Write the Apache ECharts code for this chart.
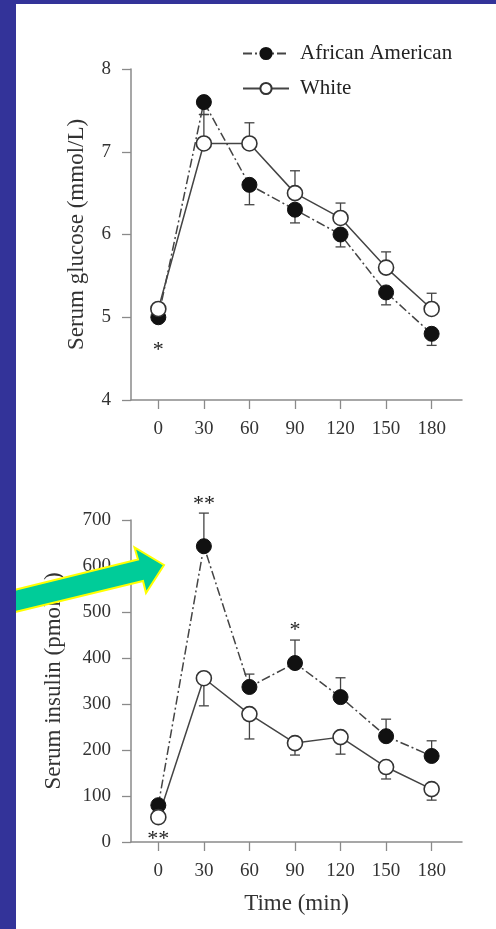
<!DOCTYPE html>
<html>
<head>
<meta charset="utf-8">
<script src="https://cdn.jsdelivr.net/npm/echarts@6/dist/echarts.min.js"></script>
<style>
  html, body { margin: 0; padding: 0; background: #ffffff; }
  #chart { width: 496px; height: 929px; }
</style>
</head>
<body>
<div id="chart"></div>
<script>
// ---- data ----
const times = [0, 30, 60, 90, 120, 150, 180];
const glucoseTicks = [4, 5, 6, 7, 8];
const insulinTicks = [0, 100, 200, 300, 400, 500, 600, 700];

const glucoseAA = [5.0, 7.6, 6.6, 6.3, 6.0, 5.3, 4.8];
const glucoseWhite = [5.1, 7.1, 7.1, 6.5, 6.2, 5.6, 5.1];
const glucoseAAErrEnd = [null, 7.45, 6.36, 6.14, 5.85, 5.15, 4.66];
const glucoseWhiteErrEnd = [null, 7.45, 7.35, 6.77, 6.38, 5.79, 5.29];

const insulinAA = [80, 643, 337, 389, 315, 230, 187];
const insulinWhite = [54, 356, 278, 215, 228, 163, 115];
const insulinAAErrEnd = [null, 715, 365, 439, 357, 267, 220];
const insulinWhiteErrEnd = [null, 296, 224, 189, 191, 137, 91];

const glucoseMarks = [[0, 4.6, '*']];
const insulinMarks = [[30, 735, '**'], [90, 460, '*'], [0, 6, '**']];

const seriesNames = ['African American', 'White'];
// ---------------

const serif = 'Liberation Serif, Times New Roman, serif';
const axisGray = '#8a8a8a';
const ink = '#333';

function pairs(vals) { return times.map((t, i) => [t, vals[i]]); }
function errData(vals, ends) {
  const out = [];
  times.forEach((t, i) => { if (ends[i] != null) out.push([t, vals[i], ends[i]]); });
  return out;
}
function errRender(params, api) {
  const x = api.value(0), y0 = api.value(1), y1 = api.value(2);
  const p0 = api.coord([x, y0]), p1 = api.coord([x, y1]);
  const w = 5;
  const st = { stroke: '#444', lineWidth: 1.3 };
  return { type: 'group', children: [
    { type: 'line', shape: { x1: p0[0], y1: p0[1], x2: p1[0], y2: p1[1] }, style: st },
    { type: 'line', shape: { x1: p1[0] - w, y1: p1[1], x2: p1[0] + w, y2: p1[1] }, style: st }
  ]};
}
function markRender(params, api) {
  const p = api.coord([api.value(0), api.value(1)]);
  return { type: 'text', x: p[0], y: p[1],
    style: { text: api.value(2), fill: '#222', font: '22px ' + serif, align: 'center', verticalAlign: 'middle' } };
}

function xAxisCfg(idx, withName) {
  return {
    gridIndex: idx, type: 'value', min: -18, max: 200,
    axisLine: { show: true, onZero: false, lineStyle: { color: axisGray, width: 1.5 } },
    axisTick: { show: true, customValues: times, length: 9, inside: false, lineStyle: { color: axisGray, width: 1.3 } },
    axisLabel: { customValues: times, fontSize: 19, fontFamily: serif, color: ink, margin: 20 },
    splitLine: { show: false },
    name: withName ? 'Time (min)' : '',
    nameLocation: 'middle', nameGap: 50,
    nameTextStyle: { fontSize: 23, fontFamily: serif, color: ink }
  };
}
function yAxisCfg(idx, min, max, interval, name, gap) {
  return {
    gridIndex: idx, type: 'value', min: min, max: max, interval: interval,
    axisLine: { show: true, onZero: false, lineStyle: { color: axisGray, width: 1.5 } },
    axisTick: { show: true, length: 9, inside: false, lineStyle: { color: axisGray, width: 1.3 } },
    axisLabel: { fontSize: 19, fontFamily: serif, color: ink, margin: 20 },
    splitLine: { show: false },
    name: name, nameLocation: 'middle', nameGap: gap,
    nameTextStyle: { fontSize: 23, fontFamily: serif, color: ink }
  };
}

function lineSeries(name, data, xi, yi, filled) {
  return {
    name: name, type: 'line', xAxisIndex: xi, yAxisIndex: yi, data: data,
    symbol: 'circle', symbolSize: 15, z: 5,
    lineStyle: filled ? { color: '#444', width: 1.5, type: [9, 3, 2, 3] } : { color: '#444', width: 1.5, type: 'solid' },
    itemStyle: filled ? { color: '#111', borderColor: '#111', borderWidth: 1 } : { color: '#fff', borderColor: '#333', borderWidth: 1.6 }
  };
}
function errSeries(data, xi, yi) {
  return { type: 'custom', xAxisIndex: xi, yAxisIndex: yi, data: data, renderItem: errRender,
    encode: { x: 0, y: [1, 2] }, z: 3, silent: true };
}
function markSeries(data, xi, yi) {
  return { type: 'custom', xAxisIndex: xi, yAxisIndex: yi, renderItem: markRender,
    dimensions: ['x', 'y', { name: 't', type: 'ordinal' }],
    data: data, encode: { x: 0, y: 1 }, z: 6, silent: true };
}

// arrow geometry (decoration)
const arrowPts = [[2, 593], [138, 559.5], [134.5, 547.5], [164, 565], [146, 593], [143, 581], [7, 614]];

const chart = echarts.init(document.getElementById('chart'), null, { renderer: 'canvas' });
chart.setOption({
  backgroundColor: '#ffffff',
  animation: false,
  grid: [
    { left: 131, top: 69, width: 331, height: 331 },
    { left: 131, top: 520, width: 331, height: 322 }
  ],
  xAxis: [xAxisCfg(0, false), xAxisCfg(1, true)],
  yAxis: [
    yAxisCfg(0, glucoseTicks[0], glucoseTicks[glucoseTicks.length - 1], 1, 'Serum glucose (mmol/L)', 43),
    yAxisCfg(1, insulinTicks[0], insulinTicks[insulinTicks.length - 1], 100, 'Serum insulin (pmol/L)', 66)
  ],
  legend: {
    data: seriesNames, orient: 'vertical', left: 237, top: 38, itemWidth: 46, itemHeight: 14, itemGap: 14,
    textStyle: { fontSize: 21, fontFamily: serif, color: '#222', padding: [0, 0, 0, 6] }
  },
  series: [
    errSeries(errData(glucoseAA, glucoseAAErrEnd), 0, 0),
    errSeries(errData(glucoseWhite, glucoseWhiteErrEnd), 0, 0),
    lineSeries(seriesNames[0], pairs(glucoseAA), 0, 0, true),
    lineSeries(seriesNames[1], pairs(glucoseWhite), 0, 0, false),
    markSeries(glucoseMarks, 0, 0),
    errSeries(errData(insulinAA, insulinAAErrEnd), 1, 1),
    errSeries(errData(insulinWhite, insulinWhiteErrEnd), 1, 1),
    lineSeries(seriesNames[0], pairs(insulinAA), 1, 1, true),
    lineSeries(seriesNames[1], pairs(insulinWhite), 1, 1, false),
    markSeries(insulinMarks, 1, 1)
  ],
  graphic: [
    { type: 'polygon', z: 50, shape: { points: arrowPts }, style: { fill: '#00CC99', stroke: '#FFFF00', lineWidth: 2 } },
    { type: 'rect', z: 100, shape: { x: 0, y: 0, width: 16, height: 929 }, style: { fill: '#333399' } },
    { type: 'rect', z: 100, shape: { x: 0, y: 0, width: 496, height: 4 }, style: { fill: '#333399' } }
  ]
});
</script>
</body>
</html>
